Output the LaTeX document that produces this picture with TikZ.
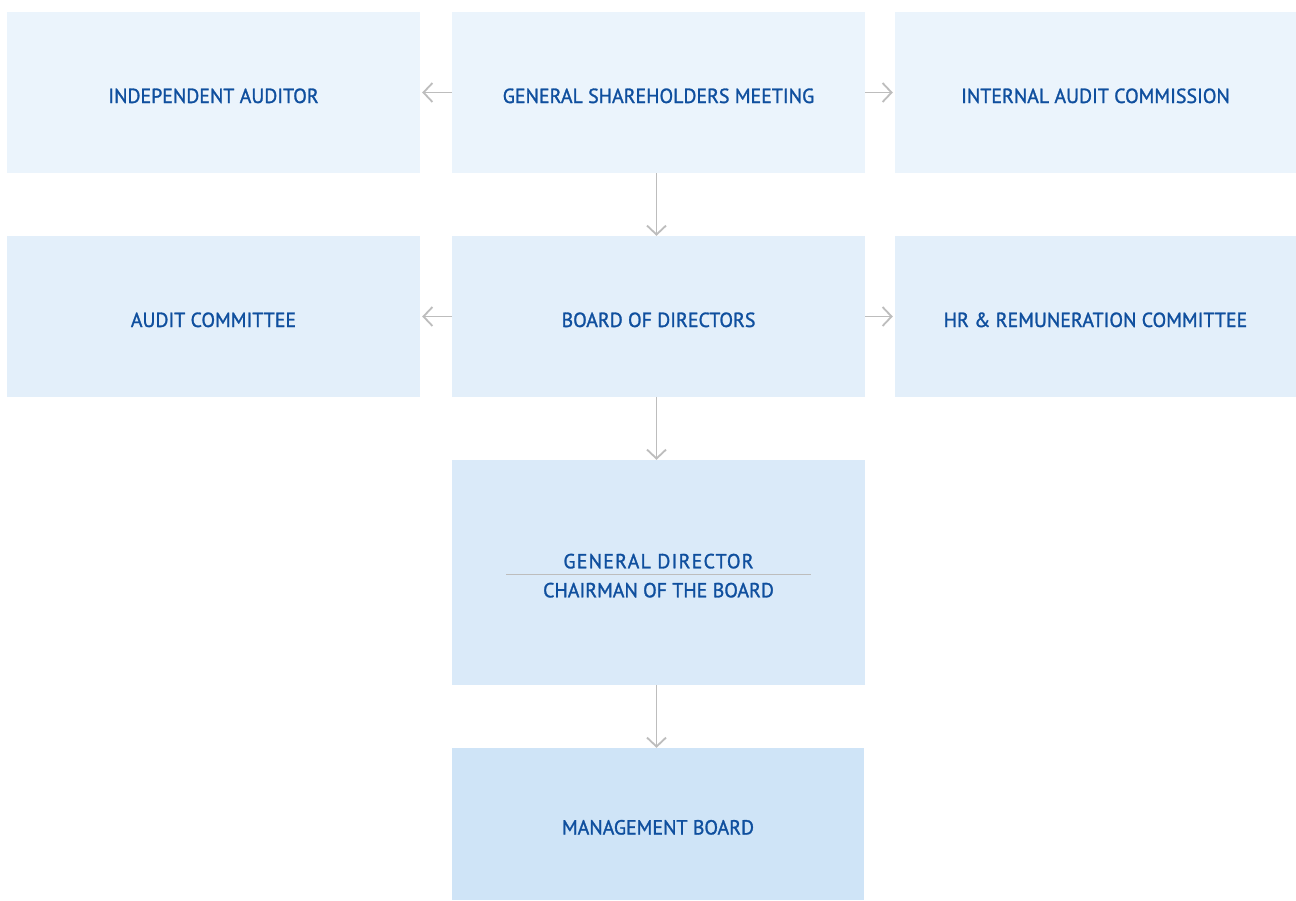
\documentclass[tikz,border=0pt]{standalone}
\usepackage{fontspec}
\setmainfont{PT Sans}[FakeBold=1.3, FakeStretch=0.975]
\usetikzlibrary{arrows.meta}
\definecolor{fillA}{HTML}{EBF4FC}
\definecolor{fillB}{HTML}{E3EFFA}
\definecolor{fillC}{HTML}{DAEAF9}
\definecolor{fillD}{HTML}{CFE4F7}
\definecolor{txt}{HTML}{0F4F9E}
\definecolor{arr}{HTML}{BDBDBD}
\tikzset{
  box/.style={rectangle, inner sep=0pt, minimum width=413pt, minimum height=161pt,
    text=txt, font=\fontsize{20.4}{29}\selectfont, text height=21pt, text depth=0pt, align=center},
  conn/.style={draw=arr, line width=1.8pt, -{Straight Barb[length=9pt,width=19pt,line width=1.8pt]}},
  sep/.style={draw=arr, line width=1pt}
}
\begin{document}
\begin{tikzpicture}[x=1pt,y=-1pt]
\useasboundingbox[fill=white] (0,0) rectangle (1296,900);
\node[box, fill=fillA] (ia) at (213.5,92.5) {INDEPENDENT AUDITOR};
\node[box, fill=fillA] (gsm) at (658.5,92.5) {GENERAL SHAREHOLDERS MEETING};
\node[box, fill=fillA, minimum width=401pt] (iac) at (1095.5,92.5) {INTERNAL AUDIT COMMISSION};
\node[box, fill=fillB] (ac) at (213.5,316.5) {AUDIT COMMITTEE};
\node[box, fill=fillB] (bod) at (658.5,316.5) {BOARD OF DIRECTORS};
\node[box, fill=fillB, minimum width=401pt] (hr) at (1095.5,316.5) {HR \& REMUNERATION COMMITTEE};
\node[box, fill=fillC, minimum height=225pt, text height=49.6pt, text depth=0pt] (gd) at (658.5,572.5)
  {{\addfontfeature{LetterSpace=6}GENERAL DIRECTOR}\\CHAIRMAN OF THE BOARD};
\node[box, fill=fillD, minimum width=412pt, minimum height=152pt] (mb) at (658,824) {MANAGEMENT BOARD};
\draw[sep] ([xshift=-152.5pt,yshift=-1.8pt]gd.center) coordinate (s1) -- ([xshift=152.5pt,yshift=-1.8pt]gd.center) coordinate (s2);
\draw[conn, shorten >=2pt] (gsm.west) -- (ia.east);
\draw[conn, shorten >=2pt] (gsm.east) -- (iac.west);
\draw[conn, shorten >=2pt] (bod.west) -- (ac.east);
\draw[conn, shorten >=2pt] (bod.east) -- (hr.west);
\draw[conn] ([xshift=-2pt]gsm.south) -- ([xshift=-2pt]bod.north);
\draw[conn] ([xshift=-2pt]bod.south) -- ([xshift=-2pt]gd.north);
\draw[conn] ([xshift=-2pt]gd.south) -- ([xshift=-2pt]gd.south |- mb.north);
\end{tikzpicture}
\end{document}
